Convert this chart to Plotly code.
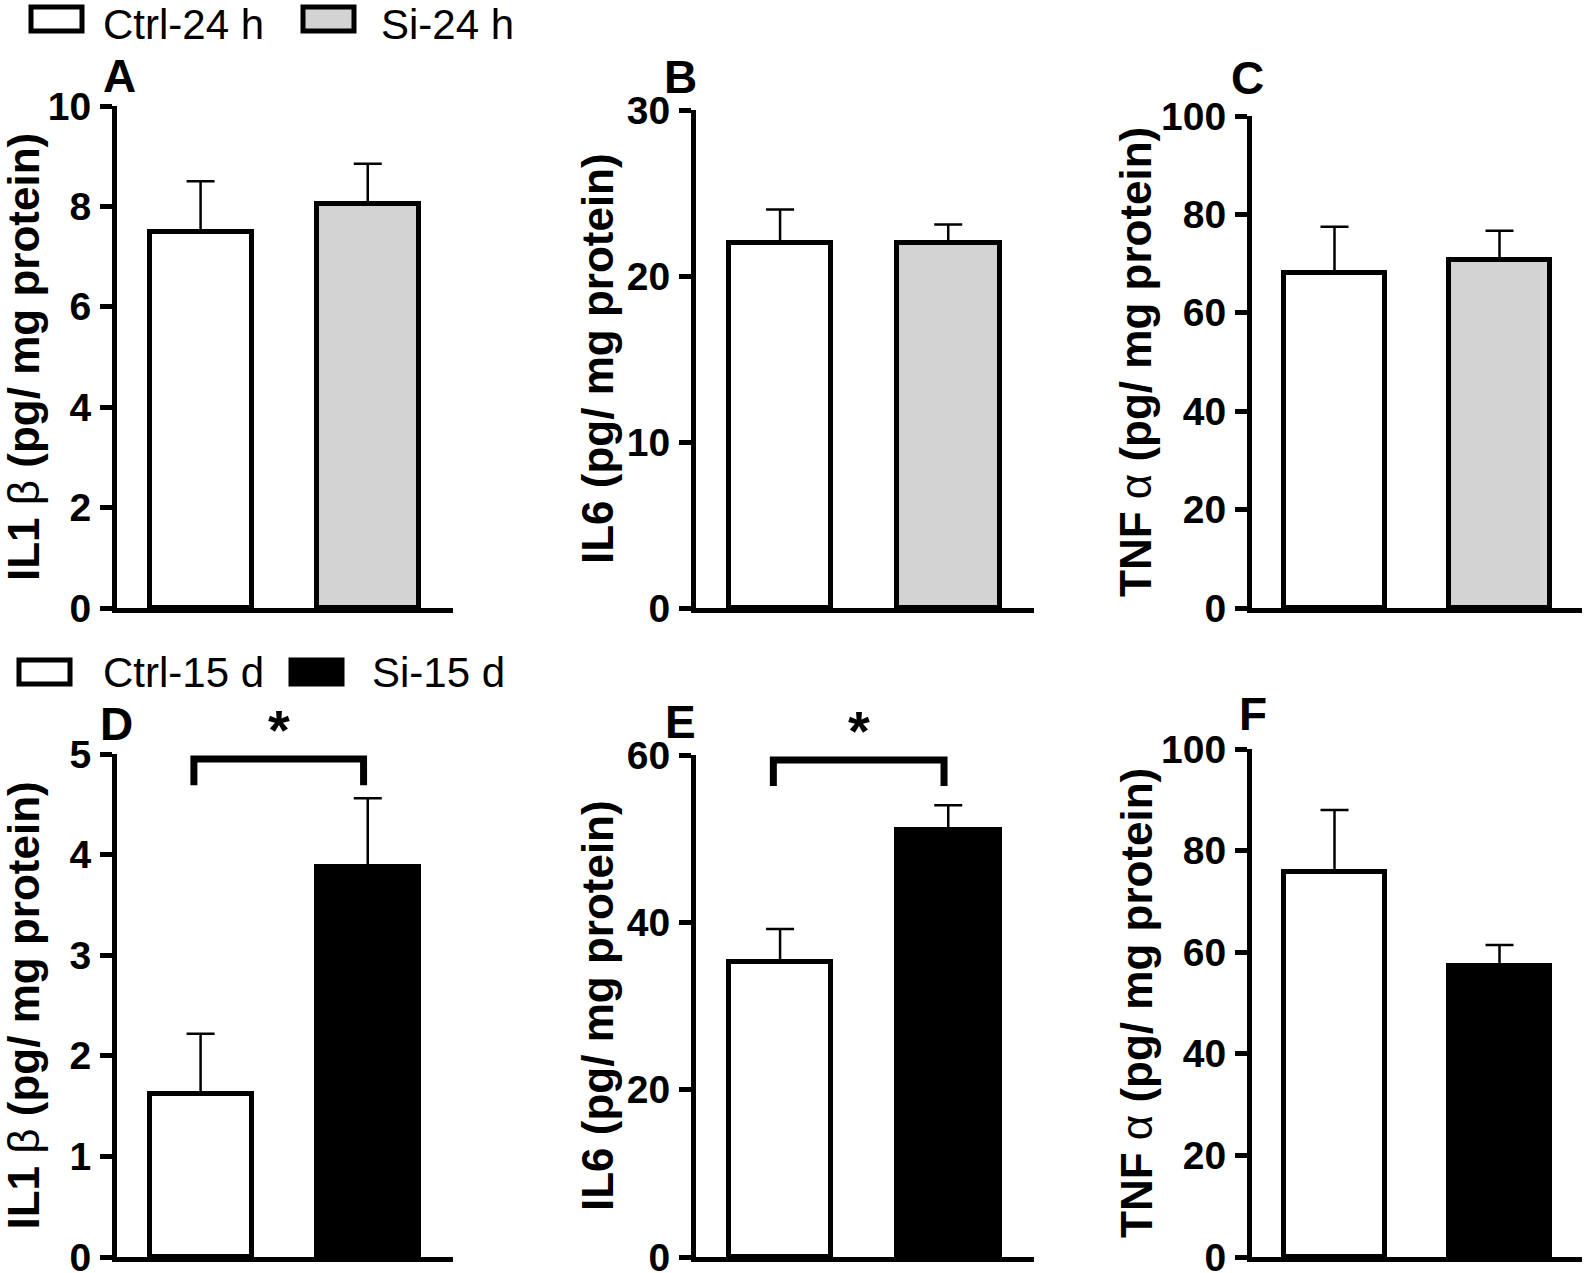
import plotly.graph_objects as go

W, H = 1594, 1273

# ---------------- data ----------------
groups_24h = ["Ctrl-24 h", "Si-24 h"]
groups_15d = ["Ctrl-15 d", "Si-15 d"]

il1b_24h = [7.5, 8.05]
il1b_24h_err = [1.0, 0.8]
il6_24h = [22.0, 22.0]
il6_24h_err = [2.0, 1.1]
tnfa_24h = [68.0, 70.8]
tnfa_24h_err = [9.5, 5.9]

il1b_15d = [1.62, 3.88]
il1b_15d_err = [0.60, 0.68]
il6_15d = [35.2, 51.0]
il6_15d_err = [4.0, 3.0]
tnfa_15d = [75.8, 57.2]
tnfa_15d_err = [12.2, 4.2]

ticks_il1b_24h = [0, 2, 4, 6, 8, 10]
ticks_il6_24h = [0, 10, 20, 30]
ticks_tnfa_24h = [0, 20, 40, 60, 80, 100]
ticks_il1b_15d = [0, 1, 2, 3, 4, 5]
ticks_il6_15d = [0, 20, 40, 60]
ticks_tnfa_15d = [0, 20, 40, 60, 80, 100]

panel_letters = ["A", "B", "C", "D", "E", "F"]
y_titles = ["IL1 <span style='font-weight:normal'>β</span> (pg/ mg protein)",
            "IL6 (pg/ mg protein)",
            "TNF <span style='font-weight:normal'>α</span> (pg/ mg protein)"]

# significance brackets (bottom row D and E)
bracket_D_y = [4.69, 4.95]
bracket_E_y = [56.3, 59.4]
bracket_x = [-0.04, 0.975]
star_D_y = 5.24
star_E_y = 62.9

# ---------------- layout helpers ----------------
def px(x):
    return x / W

def py(y):
    return 1 - y / H

FONT = "Arial, Liberation Sans, sans-serif"
colors_24h = ["white", "#d3d3d3"]
colors_15d = ["white", "black"]

cols = [(117, 453, [-0.5, 1.51]), (696, 1034, [-0.5, 1.51]), (1252, 1582, [-0.5, 1.5])]
top_rows = [106, 110, 116]
bot_rows = [754, 755, 749]
top_bottom = 608
bot_bottom = 1257

panels = [
    (il1b_24h, il1b_24h_err, ticks_il1b_24h, colors_24h, 0, top_rows[0], top_bottom),
    (il6_24h, il6_24h_err, ticks_il6_24h, colors_24h, 1, top_rows[1], top_bottom),
    (tnfa_24h, tnfa_24h_err, ticks_tnfa_24h, colors_24h, 2, top_rows[2], top_bottom),
    (il1b_15d, il1b_15d_err, ticks_il1b_15d, colors_15d, 0, bot_rows[0], bot_bottom),
    (il6_15d, il6_15d_err, ticks_il6_15d, colors_15d, 1, bot_rows[1], bot_bottom),
    (tnfa_15d, tnfa_15d_err, ticks_tnfa_15d, colors_15d, 2, bot_rows[2], bot_bottom),
]

fig = go.Figure()
layout = {}
annotations = []

for i, (vals, errs, ticks, colors, c, ytop, ybot) in enumerate(panels):
    n = i + 1
    xa = "x" if n == 1 else f"x{n}"
    ya = "y" if n == 1 else f"y{n}"
    fig.add_trace(go.Bar(
        x=[0, 1], y=vals, width=0.61,
        marker=dict(color=colors, line=dict(color="black", width=5)),
        error_y=dict(type="data", symmetric=False, array=errs, arrayminus=[0, 0],
                     color="black", thickness=2.5, width=14),
        xaxis=xa, yaxis=ya, showlegend=False, hoverinfo="skip",
    ))
    x0, x1, xr = cols[c]
    layout["xaxis" if n == 1 else f"xaxis{n}"] = dict(
        domain=[px(x0), px(x1)], range=xr, anchor=ya, automargin=False,
        showline=True, linewidth=5, linecolor="black",
        showticklabels=False, ticks="", showgrid=False, zeroline=False, fixedrange=True,
    )
    layout["yaxis" if n == 1 else f"yaxis{n}"] = dict(
        domain=[py(ybot), py(ytop)], range=[ticks[0], ticks[-1]], anchor=xa,
        automargin=False, ticklabeloverflow="allow",
        tickvals=ticks, ticktext=[str(t) for t in ticks],
        showline=True, linewidth=5, linecolor="black",
        ticks="outside", ticklen=12, tickwidth=5, tickcolor="black",
        tickfont=dict(family=FONT, size=39, color="black", weight="bold"),
        ticklabelstandoff=1,
        showgrid=False, zeroline=False, fixedrange=True,
    )
    # y-axis title
    tx = [23, 597, 1136][c]
    annotations.append(dict(
        xref="paper", yref="paper", x=px(tx), y=py((ytop + ybot) / 2),
        text=y_titles[c], textangle=-90, showarrow=False,
        xanchor="center", yanchor="middle",
        font=dict(family=FONT, size=44, color="black", weight="bold"),
    ))

# significance brackets
for n, by in [(4, bracket_D_y), (5, bracket_E_y)]:
    fig.add_trace(go.Scatter(
        x=[bracket_x[0], bracket_x[0], bracket_x[1], bracket_x[1]],
        y=[by[0], by[1], by[1], by[0]], mode="lines",
        line=dict(color="black", width=7), cliponaxis=False,
        xaxis=f"x{n}", yaxis=f"y{n}", showlegend=False, hoverinfo="skip",
    ))

# stars (y given in data units, converted to the axis-domain fraction)
for n, ys, ymax in [(4, star_D_y, ticks_il1b_15d[-1]), (5, star_E_y, ticks_il6_15d[-1])]:
    annotations.append(dict(
        xref=f"x{n}", yref=f"y{n} domain", x=(bracket_x[0] + bracket_x[1]) / 2, y=ys / ymax,
        text="*", showarrow=False, xanchor="center", yanchor="middle",
        font=dict(family=FONT, size=56, color="black", weight="bold"),
    ))

# panel letters
letter_pos = [(119, 76), (680, 77), (1247, 78), (117, 724), (680, 722), (1253, 714)]
for L, (lx, ly) in zip(panel_letters, letter_pos):
    annotations.append(dict(
        xref="paper", yref="paper", x=px(lx), y=py(ly), text=L, showarrow=False,
        xanchor="center", yanchor="middle",
        font=dict(family=FONT, size=46, color="black", weight="bold"),
    ))

# legends (drawn as boxes + text)
shapes = []
legend_items = [
    (31, 82, 7, 31, "white", 102, None, groups_24h[0]),
    (303, 354, 7, 31, "#d3d3d3", 380, None, groups_24h[1]),
    (19, 70, 660, 684, "white", 101, 672, groups_15d[0]),
    (291, 342, 660, 684, "black", 370, 672, groups_15d[1]),
]
for (bx0, bx1, by0, by1, col, txx, tyy, label) in legend_items:
    shapes.append(dict(type="rect", xref="paper", yref="paper",
                       x0=px(bx0), x1=px(bx1), y0=py(by1), y1=py(by0),
                       line=dict(color="black", width=5), fillcolor=col))
    if tyy is None:
        annotations.append(dict(
            xref="paper", yref="paper", x=px(txx), y=1, text=label, showarrow=False,
            xanchor="left", yanchor="top", borderpad=0,
            font=dict(family=FONT, size=42, color="black"),
        ))
    else:
        annotations.append(dict(
            xref="paper", yref="paper", x=px(txx), y=py(tyy), text=label, showarrow=False,
            xanchor="left", yanchor="middle",
            font=dict(family=FONT, size=42, color="black"),
        ))

fig.update_layout(
    width=W, height=H, autosize=False,
    margin=dict(l=0, r=0, t=0, b=0, pad=0),
    paper_bgcolor="white", plot_bgcolor="white",
    bargap=0, annotations=annotations, shapes=shapes,
    **layout,
)

fig.write_html("out.html", config={"displayModeBar": False},
               post_script="document.body.style.margin='0px';document.body.style.overflow='hidden';")
